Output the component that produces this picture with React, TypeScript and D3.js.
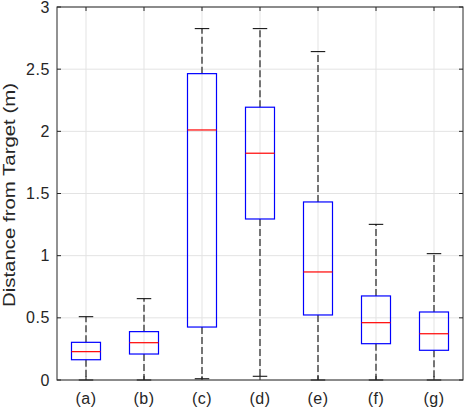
import * as d3 from "d3";
import React, { useEffect, useRef } from "react";

const W = 464;
const H = 408;
const margin = { left: 57, right: 1, top: 7, bottom: 28 };

const groups = ["(a)", "(b)", "(c)", "(d)", "(e)", "(f)", "(g)"];
const whiskerLow = [0.0, 0.0, 0.01, 0.03, 0.0, 0.0, 0.0];
const q1 = [0.163, 0.209, 0.426, 1.295, 0.523, 0.292, 0.239];
const medians = [0.228, 0.3, 2.011, 1.824, 0.869, 0.461, 0.372];
const q3 = [0.303, 0.389, 2.464, 2.194, 1.432, 0.676, 0.547];
const whiskerHigh = [0.509, 0.654, 2.826, 2.826, 2.641, 1.252, 1.016];
const yTicks = [0, 0.5, 1, 1.5, 2, 2.5, 3];

export default function App() {
    const svgRef = useRef<SVGSVGElement | null>(null);

    useEffect(() => {
        document.body.style.margin = "0";
        if (!svgRef.current) return;
        const svg = d3.select(svgRef.current);
        svg.selectAll("*").remove();

        const x0 = margin.left;
        const x1 = W - margin.right;
        const y0 = margin.top;
        const y1 = H - margin.bottom;

        const x = d3.scaleLinear().domain([0.5, groups.length + 0.5]).range([x0, x1]);
        const y = d3.scaleLinear().domain([0, 3]).range([y1, y0]);
        const font = "'Liberation Sans', Arial, sans-serif";
        const boxW = (x(2) - x(1)) * 0.5;
        const capW = boxW * 0.5;

        /* ---------- grid ---------- */
        const grid = svg.append("g").attr("stroke", "#e3e3e3").attr("stroke-width", 1);
        yTicks.forEach((t) => {
            grid.append("line").attr("x1", x0).attr("x2", x1).attr("y1", y(t)).attr("y2", y(t));
        });
        groups.forEach((_, i) => {
            grid.append("line").attr("x1", x(i + 1)).attr("x2", x(i + 1)).attr("y1", y0).attr("y2", y1);
        });

        /* ---------- boxes ---------- */
        groups.forEach((_, i) => {
            const cx = x(i + 1);
            const g = svg.append("g");
            g.append("line")
                .attr("x1", cx).attr("x2", cx)
                .attr("y1", y(q3[i])).attr("y2", y(whiskerHigh[i]))
                .attr("stroke", "#333").attr("stroke-width", 1.3)
                .attr("stroke-dasharray", "7,3");
            g.append("line")
                .attr("x1", cx).attr("x2", cx)
                .attr("y1", y(q1[i])).attr("y2", y(whiskerLow[i]))
                .attr("stroke", "#333").attr("stroke-width", 1.3)
                .attr("stroke-dasharray", "7,3");
            [whiskerHigh[i], whiskerLow[i]].forEach((v) => {
                g.append("line")
                    .attr("x1", cx - capW / 2).attr("x2", cx + capW / 2)
                    .attr("y1", y(v)).attr("y2", y(v))
                    .attr("stroke", "#000").attr("stroke-width", 1);
            });
            g.append("rect")
                .attr("x", cx - boxW / 2)
                .attr("y", y(q3[i]))
                .attr("width", boxW)
                .attr("height", y(q1[i]) - y(q3[i]))
                .attr("fill", "none")
                .attr("stroke", "#0000ff")
                .attr("stroke-width", 1.2);
            g.append("line")
                .attr("x1", cx - boxW / 2).attr("x2", cx + boxW / 2)
                .attr("y1", y(medians[i])).attr("y2", y(medians[i]))
                .attr("stroke", "#ff0000").attr("stroke-width", 1.2);
        });

        /* ---------- axes frame & ticks ---------- */
        const ax = svg.append("g").attr("stroke", "#262626").attr("stroke-width", 1);
        ax.append("rect")
            .attr("x", x0).attr("y", y0)
            .attr("width", x1 - x0).attr("height", y1 - y0)
            .attr("fill", "none");
        yTicks.forEach((t) => {
            ax.append("line").attr("x1", x0).attr("x2", x0 + 4).attr("y1", y(t)).attr("y2", y(t));
            ax.append("line").attr("x1", x1).attr("x2", x1 - 4).attr("y1", y(t)).attr("y2", y(t));
        });
        groups.forEach((_, i) => {
            ax.append("line").attr("x1", x(i + 1)).attr("x2", x(i + 1)).attr("y1", y1).attr("y2", y1 - 4);
            ax.append("line").attr("x1", x(i + 1)).attr("x2", x(i + 1)).attr("y1", y0).attr("y2", y0 + 4);
        });

        yTicks.forEach((t) => {
            svg.append("text")
                .attr("x", x0 - 7)
                .attr("y", y(t) + 5.5)
                .attr("text-anchor", "end")
                .attr("font-family", font)
                .attr("font-size", "16px")
                .attr("letter-spacing", "0.6px")
                .attr("fill", "#262626")
                .text(String(t));
        });
        groups.forEach((gname, i) => {
            svg.append("text")
                .attr("x", x(i + 1))
                .attr("y", y1 + 24)
                .attr("text-anchor", "middle")
                .attr("font-family", font)
                .attr("font-size", "16px")
                .attr("letter-spacing", "0.5px")
                .attr("fill", "#262626")
                .text(gname);
        });

        svg.append("text")
            .attr("transform", `translate(15,195) rotate(-90)`)
            .attr("text-anchor", "middle")
            .attr("font-family", font)
            .attr("font-size", "17px")
            .attr("textLength", 224)
            .attr("lengthAdjust", "spacingAndGlyphs")
            .attr("fill", "#262626")
            .text("Distance from Target (m)");
    }, []);

    return <svg ref={svgRef} width={W} height={H} style={{ display: "block", background: "#fff" }} />;
}
